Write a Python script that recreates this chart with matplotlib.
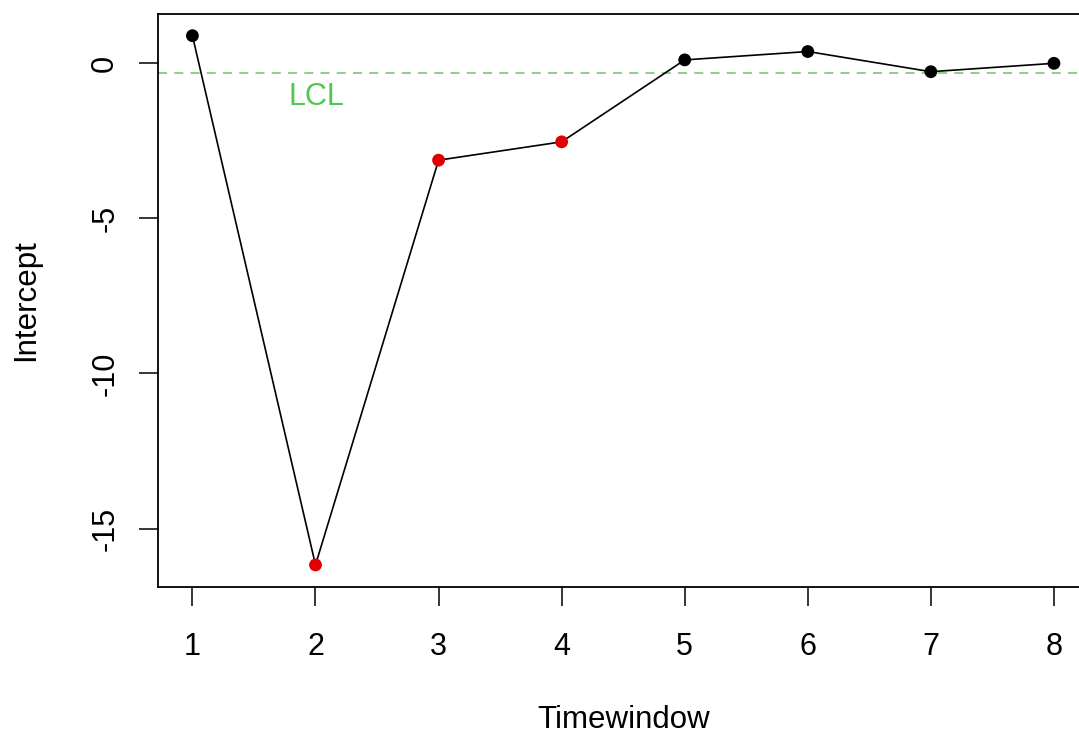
import matplotlib.pyplot as plt

# values
windows = [1, 2, 3, 4, 5, 6, 7, 8]
intercept = [0.88, -16.17, -3.13, -2.54, 0.10, 0.37, -0.28, -0.01]
point_colors = ['black', '#e00000', '#e00000', '#e00000', 'black', 'black', 'black', 'black']
lcl = -0.33
y_ticks = [0, -5, -10, -15]

plt.rcParams['font.family'] = ['Liberation Sans', 'DejaVu Sans']

fig = plt.figure(figsize=(10.79, 7.35), dpi=100)
ax = fig.add_axes([0.1464, 0.2014, 0.8623, 0.7796])

ax.plot(windows, intercept, color='black', lw=1.2, zorder=2)
ax.scatter(windows, intercept, c=point_colors, s=85, zorder=3, edgecolors='none')
ax.axhline(lcl, color='#7fcf7f', ls=(0, (5, 4)), lw=1.3, zorder=1)
ax.text(2.01, lcl - 0.75, 'LCL', color='#4fc84f', fontsize=22, ha='center', va='center')

ax.set_xlim(0.72, 8.28)
ax.set_ylim(-16.88, 1.58)
ax.set_xticks(windows)
ax.set_yticks(y_ticks)
ax.set_yticklabels([str(v) for v in y_ticks], rotation=90, va='center')
ax.tick_params(axis='both', length=13.7, width=1.1, labelsize=22)
ax.tick_params(axis='x', pad=18.5)
ax.tick_params(axis='y', pad=13.5)
for s in ax.spines.values():
    s.set_linewidth(1.3)

ax.set_xlabel('Timewindow', fontsize=22.5, labelpad=31)
ax.set_ylabel('Intercept', fontsize=22.5, labelpad=35)

fig.savefig('out.png', dpi=100)
